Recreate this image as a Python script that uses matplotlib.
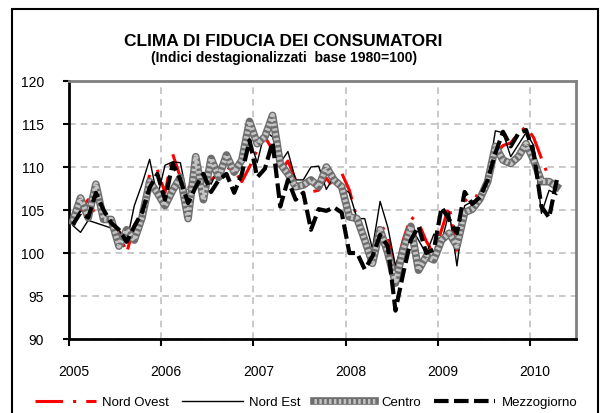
import numpy as np
import matplotlib
matplotlib.use("Agg")
import matplotlib.pyplot as plt
from matplotlib.patches import Rectangle
from matplotlib.transforms import ScaledTranslation

plt.rcParams['font.family'] = ['Liberation Sans', 'DejaVu Sans']

# monthly values, Jan 2005 - Apr 2010
nord_ovest = [103.6, 105.0, 106.2, 104.3, 104.2, 103.8, 102.5, 100.0, 103.2, 104.8, 109.2, 109.7,
              107.0, 111.5, 108.8, 107.5, 108.8, 108.5, 108.5, 109.3, 110.0, 109.5, 108.3, 110.0,
              112.0, 113.5, 112.0, 109.5, 110.7, 108.5, 108.3, 107.1, 107.3, 108.7, 107.5, 109.3,
              107.3, 104.0, 101.0, 99.0, 103.6, 101.8, 98.0, 101.5, 104.2, 103.5, 101.4, 99.8,
              102.7, 105.5, 99.6, 106.0, 106.8, 106.5, 108.0, 111.5, 112.5, 112.8, 113.9, 114.7,
              113.4, 111.0, 108.7, 107.7]
nord_est = [103.2, 102.4, 103.8, 103.5, 103.2, 102.9, 102.7, 101.2, 105.5, 108.0, 110.9, 106.5,
            110.2, 110.6, 110.5, 106.0, 107.5, 109.3, 108.0, 110.0, 111.5, 109.8, 110.5, 113.3,
            110.5, 114.2, 113.5, 110.5, 111.8, 108.5, 108.5, 110.0, 110.1, 107.4, 108.9, 107.6,
            107.0, 104.0, 104.0, 100.5, 106.0, 103.0, 98.5, 101.5, 103.0, 101.5, 99.9, 102.2,
            101.3, 104.8, 98.5, 105.5, 106.0, 106.3, 108.5, 114.2, 114.0, 111.2, 112.6, 114.0,
            112.5, 104.6, 107.3, 106.8]
centro = [103.7, 106.4, 104.1, 108.0, 103.9, 103.9, 100.8, 102.7, 101.5, 104.1, 108.3, 107.0,
          105.5, 107.3, 108.8, 104.0, 111.2, 106.2, 111.0, 108.8, 111.4, 109.4, 110.8, 115.3,
          112.7, 113.5, 116.0, 110.4, 109.2, 107.7, 107.9, 108.5, 107.7, 110.0, 108.5, 107.7,
          104.2, 104.0, 101.5, 98.8, 102.7, 100.0, 96.5, 100.4, 103.1, 98.0, 99.6, 99.2,
          101.5, 102.3, 100.8, 104.7, 105.1, 106.3, 108.3, 112.4, 110.8, 110.4, 111.2, 112.7,
          110.8, 108.3, 108.3, 107.7]
mezzogiorno = [103.3, 104.7, 104.1, 107.0, 105.0, 103.5, 102.7, 101.3, 103.1, 104.7, 107.6, 109.2,
               106.2, 110.4, 108.5, 105.8, 107.7, 109.2, 107.1, 108.5, 109.2, 107.0, 109.2, 113.1,
               108.8, 109.8, 112.9, 105.4, 108.5, 106.2, 107.0, 102.7, 105.1, 104.9, 105.3, 104.7,
               100.0, 100.0, 98.1, 99.6, 102.1, 100.8, 93.3, 97.6, 101.5, 103.1, 100.0, 100.4,
               105.3, 103.9, 102.3, 107.1, 105.7, 106.5, 108.5, 111.6, 114.1, 112.4, 113.9, 114.3,
               111.6, 105.4, 104.1, 108.5]
years = [2005, 2006, 2007, 2008, 2009, 2010]

x = 2005 + (np.arange(len(centro)) + 0.5) / 12

fig = plt.figure(figsize=(6.03, 4.14), dpi=100)
ax = fig.add_axes([69/603, 1 - 340/414, (576-69)/603, (340-82)/414])

l1, = ax.plot(x, nord_ovest, color='red', lw=2.2, dashes=(9, 3.3, 1, 3.3), zorder=3)
l2, = ax.plot(x, nord_est, color='black', lw=1.0, zorder=3)
c1, = ax.plot(x, centro, color='#6e6e6e', lw=5.5, solid_joinstyle='round', zorder=4)
c2, = ax.plot(x, centro, color='#c4c4c4', lw=3.5, dashes=(0.5, 0.5), zorder=4)
l4, = ax.plot(x, mezzogiorno, color='black', lw=3.0, dashes=(3.5, 1.3), zorder=5)

ax.set_xlim(2005, 2010.5)
ax.set_ylim(90, 120)
ax.set_yticks(np.arange(90, 121, 5))
ax.set_xticks(years)
ax.set_xticklabels([str(y) for y in years])
ax.tick_params(axis='y', direction='out', length=4, width=1.5, pad=14, labelsize=10)
ax.tick_params(axis='x', direction='out', length=5, width=1.5, pad=13, labelsize=10)
off = ScaledTranslation(5/100, 0, fig.dpi_scale_trans)
for lab in ax.get_xticklabels():
    lab.set_transform(lab.get_transform() + off)

ax.grid(True, color='#c0c0c0', lw=1.2, dashes=(4, 3))
ax.set_axisbelow(True)
for s in ['left', 'bottom']:
    ax.spines[s].set_linewidth(2)
    ax.spines[s].set_color('black')
for s in ['top', 'right']:
    ax.spines[s].set_linewidth(2)
    ax.spines[s].set_color('#808080')

fig.text(283/603, 1 - 41/414, 'CLIMA DI FIDUCIA DEI CONSUMATORI', ha='center', va='center',
         fontsize=12.5, fontweight='bold')
fig.text(284/603, 1 - 58/414, '(Indici destagionalizzati  base 1980=100)', ha='center', va='center',
         fontsize=10, fontweight='bold')

fig.legend([l1, l2, (c1, c2), l4], ['Nord Ovest', 'Nord Est', 'Centro', 'Mezzogiorno'],
           loc='center', bbox_to_anchor=(306/603, 1 - 403/414), ncol=4, frameon=False,
           fontsize=9.5, handlelength=4.6, handletextpad=0.5, columnspacing=1.0)

fig.add_artist(Rectangle((12/603, -0.01), (598-12)/603, 1.01 - 10/414, transform=fig.transFigure,
                         fill=False, edgecolor='black', lw=1.5))

fig.savefig('out.png', dpi=100)
